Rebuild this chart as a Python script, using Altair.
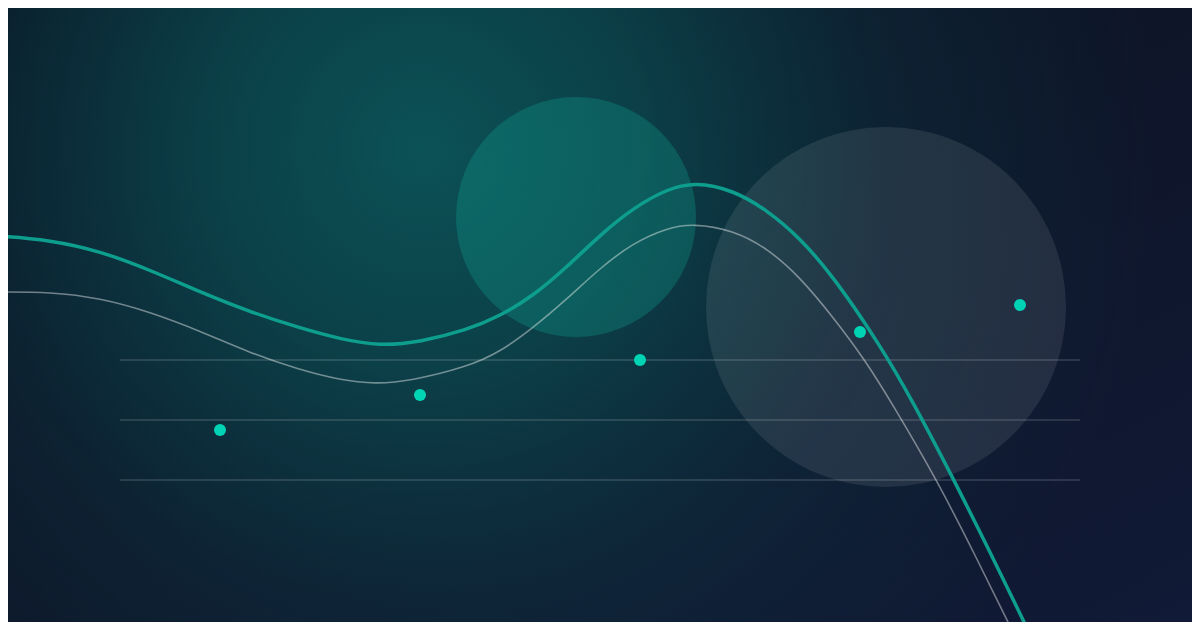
import altair as alt
import pandas as pd

# ---- data (reference pixel units) ----
teal_x = [-10, 0, 50, 100, 150, 200, 250, 300, 340, 380, 420, 467, 500, 533, 567, 600, 633, 667, 695, 733, 767, 800, 833, 880, 912, 954, 990, 1028, 1040]
teal_y = [236, 236, 240, 251, 270, 292, 312, 328, 339, 346, 342, 330, 316, 296, 267, 235, 208, 189, 182, 190, 210, 238, 276, 345, 400, 480, 552, 630, 655]

grey_x = [-10, 0, 50, 100, 150, 200, 250, 300, 340, 375, 410, 467, 500, 533, 567, 600, 633, 667, 693, 733, 767, 800, 833, 865, 890, 937, 975, 1012, 1020]
grey_y = [292, 292, 292, 298, 312, 331, 353, 370, 380, 384, 381, 367, 352, 328, 299, 268, 243, 228, 223.5, 230, 248, 277, 317, 360, 400, 480, 555, 630, 647]

dot_x = [220, 420, 640, 860, 1020]
dot_y = [430, 395, 360, 332, 305]

grid_y = [360, 420, 480]
grid_x1 = [120, 120, 120]
grid_x2 = [1080, 1080, 1080]

teal_circle = {"cx": [576], "cy": [217], "r": [120]}
grey_circle = {"cx": [886], "cy": [307], "r": [180]}

W, H = 1184, 614
xs = alt.Scale(domain=[8, 8 + W], nice=False, zero=False)
ys = alt.Scale(domain=[8, 8 + H], reverse=True, nice=False, zero=False)

one = pd.DataFrame({"a": [0]})

base_bg = alt.Chart(one).mark_rect(
    fill=alt.Gradient(
        gradient="linear",
        stops=[alt.GradientStop(color="#0a1021", offset=0),
               alt.GradientStop(color="#0e1529", offset=0.5),
               alt.GradientStop(color="#111a36", offset=1)],
        x1=0, y1=0, x2=1, y2=1),
).encode(x=alt.value(0), x2=alt.value(W), y=alt.value(0), y2=alt.value(H))

glow = alt.Chart(one).mark_rect(
    fill=alt.Gradient(
        gradient="radial",
        stops=[alt.GradientStop(color="rgba(11,82,86,1)", offset=0),
               alt.GradientStop(color="rgba(11,80,84,0.72)", offset=0.3),
               alt.GradientStop(color="rgba(11,72,80,0.28)", offset=0.62),
               alt.GradientStop(color="rgba(11,60,70,0)", offset=1)],
        x1=0.35, y1=0.36, r1=0, x2=0.35, y2=0.36, r2=0.62),
).encode(x=alt.value(0), x2=alt.value(W), y=alt.value(0), y2=alt.value(H))

grid_df = pd.DataFrame({"y": grid_y, "x1": grid_x1, "x2": grid_x2})
grid = alt.Chart(grid_df).mark_rule(color="#ffffff", opacity=0.17, strokeWidth=1.5).encode(
    x=alt.X("x1:Q", scale=xs, axis=None), x2="x2:Q",
    y=alt.Y("y:Q", scale=ys, axis=None))

def circle_layer(d, color, opacity):
    df = pd.DataFrame(d)
    return alt.Chart(df).transform_calculate(
        size="4 * datum.r * datum.r"
    ).mark_circle(color=color, opacity=opacity).encode(
        x=alt.X("cx:Q", scale=xs, axis=None), y=alt.Y("cy:Q", scale=ys, axis=None),
        size=alt.Size("size:Q", scale=None, legend=None))

c1 = circle_layer(teal_circle, "#10b8a0", 0.25)
c2 = circle_layer(grey_circle, "#ffffff", 0.09)

grey_line = alt.Chart(pd.DataFrame({"x": grey_x, "y": grey_y})).mark_line(
    color="#ffffff", opacity=0.42, strokeWidth=1.6, interpolate="basis", clip=True).encode(
    x=alt.X("x:Q", scale=xs, axis=None), y=alt.Y("y:Q", scale=ys, axis=None), order="x:Q")

teal_line = alt.Chart(pd.DataFrame({"x": teal_x, "y": teal_y})).mark_line(
    color="#0d9e8e", strokeWidth=3.5, interpolate="basis", clip=True).encode(
    x=alt.X("x:Q", scale=xs, axis=None), y=alt.Y("y:Q", scale=ys, axis=None), order="x:Q")

dots = alt.Chart(pd.DataFrame({"x": dot_x, "y": dot_y})).mark_circle(
    color="#00d4b4", opacity=1, size=144).encode(
    x=alt.X("x:Q", scale=xs, axis=None), y=alt.Y("y:Q", scale=ys, axis=None))

chart = alt.layer(base_bg, glow, grid, c1, c2, grey_line, teal_line, dots).properties(
    width=W, height=H, padding=0, autosize=alt.AutoSizeParams(type="none"),
    background="#0c1428",
).configure_view(strokeWidth=0)

chart.save("out.html", embed_options={"renderer": "svg", "actions": False})
